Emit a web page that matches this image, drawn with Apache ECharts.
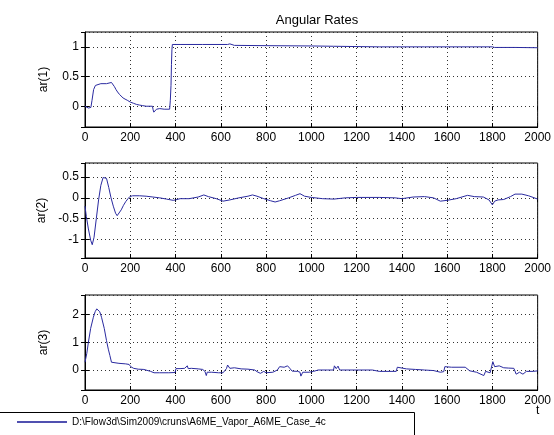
<!DOCTYPE html>
<html><head><meta charset="utf-8">
<script src="https://cdn.jsdelivr.net/npm/echarts@6/dist/echarts.min.js"></script>
<style>html,body{margin:0;padding:0;background:#fff}#c{width:554px;height:435px}</style>
</head><body><div id="c"></div>
<script>
const titleText = 'Angular Rates';
const xAxisName = 't';
const yNames = ['ar(1)', 'ar(2)', 'ar(3)'];
const legendName = 'D:\\Flow3d\\Sim2009\\cruns\\A6ME_Vapor_A6ME_Case_4c';
const xMin = 0, xMax = 2000, xStep = 200;
const yLimits = [[-0.35, 1.25], [-1.45, 0.84], [-0.72, 2.7]];
const ySplits = [3, 4, 3];

const ar1 = [[0,0],[8,-0.02],[15,-0.03],[26,-0.02],[31,0.1],[38,0.28],[46,0.35],[54,0.38],[70,0.38],[95,0.38],[103,0.4],[117,0.4],[124,0.37],[130,0.33],[137,0.28],[144,0.24],[152,0.2],[160,0.17],[168,0.14],[177,0.12],[187,0.1],[200,0.07],[214,0.05],[228,0.03],[240,0.02],[255,0.01],[270,0.0],[298,0.0],[301,-0.06],[304,-0.1],[311,-0.1],[316,-0.05],[330,-0.04],[350,-0.05],[374,-0.05],[377,0.1],[380,0.35],[382,0.7],[384,0.95],[386,1.04],[420,1.04],[520,1.04],[630,1.04],[640,1.05],[648,1.03],[660,1.025],[800,1.02],[1000,1.015],[1098,1.01],[1105,1.0],[1300,1.0],[1500,1.0],[1800,1.0],[1810,0.99],[1900,0.99],[2000,0.985]];

const ar2 = [[0,-0.2],[6,-0.45],[15,-0.75],[25,-1.02],[32,-1.13],[40,-0.95],[50,-0.5],[60,-0.05],[70,0.3],[80,0.49],[88,0.53],[95,0.47],[105,0.25],[115,0.0],[125,-0.2],[135,-0.37],[142,-0.43],[150,-0.39],[160,-0.29],[170,-0.18],[180,-0.09],[190,-0.02],[198,0.03],[210,0.05],[240,0.05],[270,0.04],[300,0.02],[330,0.0],[360,-0.03],[390,-0.06],[400,-0.05],[420,-0.02],[460,-0.02],[500,0.02],[525,0.07],[545,0.03],[580,-0.02],[610,-0.08],[640,-0.05],[680,0.0],[720,0.04],[740,0.07],[760,0.04],[790,-0.02],[820,-0.07],[840,-0.1],[860,-0.07],[900,0.0],[930,0.06],[950,0.1],[970,0.04],[1000,0.01],[1050,-0.02],[1100,-0.03],[1150,0.0],[1200,0.01],[1300,0.01],[1370,0.0],[1400,-0.02],[1450,0.02],[1500,0.03],[1540,0.0],[1570,-0.08],[1600,-0.06],[1640,-0.02],[1690,0.06],[1720,0.03],[1760,0.02],[1785,-0.05],[1800,-0.17],[1810,-0.08],[1825,-0.05],[1850,-0.04],[1880,0.03],[1900,0.09],[1930,0.09],[1960,0.05],[2000,-0.03]];

const ar3 = [[0,0.28],[8,0.6],[15,1.0],[25,1.5],[37,1.9],[45,2.1],[52,2.2],[58,2.18],[65,2.1],[73,1.9],[85,1.5],[95,1.06],[103,0.75],[110,0.52],[117,0.28],[125,0.25],[150,0.24],[180,0.22],[195,0.2],[202,0.12],[215,0.06],[235,0.03],[260,0.02],[290,-0.05],[305,-0.1],[330,-0.1],[370,-0.1],[398,-0.09],[402,0.05],[420,0.05],[440,0.06],[452,0.15],[456,0.05],[470,0.06],[500,0.04],[520,0.02],[530,-0.05],[536,-0.2],[540,-0.08],[548,-0.12],[560,-0.08],[590,-0.1],[610,-0.1],[625,0.05],[630,0.18],[640,0.06],[660,0.08],[690,0.04],[720,0.03],[750,0.0],[760,-0.06],[775,-0.12],[790,-0.05],[800,-0.1],[830,-0.08],[850,0.0],[860,0.12],[880,0.1],[895,0.15],[905,0.06],[915,-0.04],[940,-0.05],[950,-0.08],[954,-0.22],[962,-0.08],[990,-0.08],[1010,-0.05],[1030,0.0],[1070,0.0],[1098,0.0],[1102,0.15],[1110,0.05],[1118,0.14],[1125,0.0],[1200,0.0],[1270,0.0],[1300,-0.05],[1375,-0.05],[1380,0.1],[1385,0.04],[1420,0.04],[1460,0.02],[1500,0.0],[1540,-0.02],[1570,-0.08],[1585,-0.06],[1590,0.12],[1620,0.1],[1680,0.1],[1700,-0.03],[1730,-0.08],[1762,-0.2],[1770,-0.05],[1790,-0.1],[1798,-0.08],[1802,0.3],[1810,0.12],[1830,0.15],[1850,0.08],[1870,0.07],[1895,0.06],[1905,-0.15],[1920,-0.08],[1935,-0.15],[1950,-0.05],[1980,-0.05],[2000,-0.03]];

const seriesData = [ar1, ar2, ar3];
const FONT = '"Liberation Sans", Arial, Helvetica, sans-serif';
const LINE = '#2a2aa0';
const tops = [32, 163, 295];
const plain = (v) => String(v);

const grids = [], xAxes = [], yAxes = [], series = [];
for (let i = 0; i < 3; i++) {
  grids.push({left: 85, width: 454, top: tops[i], height: 95, show: true, borderColor: '#000', borderWidth: 1, backgroundColor: '#fff'});
  xAxes.push({type: 'value', gridIndex: i, min: xMin, max: xMax, interval: xStep, position: 'bottom',
    axisLine: {show: true, onZero: false, lineStyle: {color: '#000'}},
    axisTick: {show: true, inside: true, length: 4, lineStyle: {color: '#000'}},
    axisLabel: {color: '#000', fontSize: 12, fontFamily: FONT, margin: 5, formatter: plain, hideOverlap: false},
    splitLine: {show: true, lineStyle: {color: '#333', type: [1, 3], width: 1}}});
  xAxes.push({type: 'value', gridIndex: i, min: xMin, max: xMax, interval: xStep, position: 'top',
    axisLine: {show: false}, axisTick: {show: true, inside: true, length: 4, lineStyle: {color: '#000'}},
    axisLabel: {show: false}, splitLine: {show: false}});
  yAxes.push({type: 'value', gridIndex: i, min: yLimits[i][0], max: yLimits[i][1], splitNumber: ySplits[i], position: 'left',
    name: yNames[i], nameLocation: 'middle', nameGap: 35, nameRotate: 90,
    nameTextStyle: {color: '#000', fontSize: 12, fontFamily: FONT},
    axisLine: {show: true, onZero: false, lineStyle: {color: '#000'}},
    axisTick: {show: true, inside: true, length: 4, lineStyle: {color: '#000'}},
    axisLabel: {color: '#000', fontSize: 12, fontFamily: FONT, margin: 6, showMinLabel: false, showMaxLabel: false, formatter: plain},
    splitLine: {show: true, lineStyle: {color: '#333', type: [1, 3], width: 1}}});
  yAxes.push({type: 'value', gridIndex: i, min: yLimits[i][0], max: yLimits[i][1], splitNumber: ySplits[i], position: 'right',
    axisLine: {show: false}, axisTick: {show: true, inside: true, length: 4, lineStyle: {color: '#000'}},
    axisLabel: {show: false}, splitLine: {show: false}});
  series.push({type: 'line', name: legendName, xAxisIndex: 2 * i, yAxisIndex: 2 * i, data: seriesData[i],
    showSymbol: false, symbol: 'none', lineStyle: {color: LINE, width: 1}, itemStyle: {color: LINE}, animation: false});
}

const chart = echarts.init(document.getElementById('c'), null, {renderer: 'canvas'});
chart.setOption({
  backgroundColor: '#fff',
  animation: false,
  title: [{text: titleText, left: 312, top: 9, textAlign: 'center',
    textStyle: {fontSize: 13, fontWeight: 'normal', color: '#000', fontFamily: FONT}},
    {text: xAxisName, left: 536, top: 405, padding: 0,
    textStyle: {fontSize: 12, fontWeight: 'normal', color: '#000', fontFamily: FONT}}],
  legend: {data: [{name: legendName, icon: 'rect', itemStyle: {color: '#5050b0'}}], left: 17, top: 417, padding: 0,
    itemWidth: 50, itemHeight: 2, selectedMode: false,
    textStyle: {fontSize: 10, color: '#000', fontFamily: FONT}},
  graphic: [{type: 'rect', shape: {x: -1.5, y: 412.5, width: 416, height: 30}, style: {fill: 'none', stroke: '#000', lineWidth: 1}, silent: true}],
  grid: grids, xAxis: xAxes, yAxis: yAxes, series: series
});
</script></body></html>
